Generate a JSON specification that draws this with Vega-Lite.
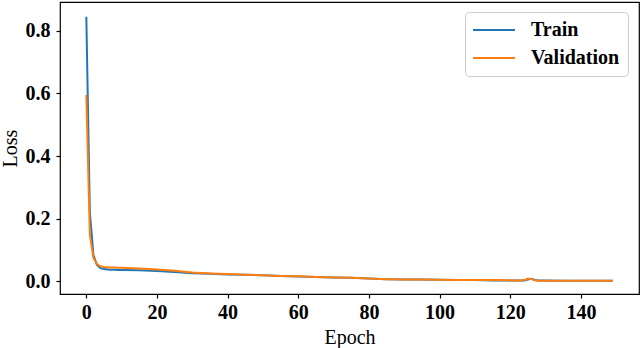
{
  "$schema": "https://vega.github.io/schema/vega-lite/v6.json",
  "width": 579,
  "height": 292,
  "autosize": {"type": "none"},
  "padding": {"left": 60, "top": 2, "right": 1, "bottom": 54},
  "background": "white",
  "config": {
    "view": {"stroke": "black", "strokeWidth": 1.2},
    "font": "Liberation Serif",
    "axis": {
      "grid": false,
      "domain": false,
      "tickColor": "black",
      "tickSize": 4,
      "tickWidth": 1.2,
      "labelFont": "Liberation Serif",
      "labelFontWeight": "bold",
      "labelFontSize": 20,
      "labelColor": "black",
      "titleFont": "Liberation Serif",
      "titleFontWeight": "normal",
      "titleFontSize": 20,
      "titleColor": "black"
    }
  },
  "data": {
    "values": [
      {"epoch": 0, "Train": 0.845, "Validation": 0.595},
      {"epoch": 1, "Train": 0.22, "Validation": 0.15},
      {"epoch": 2, "Train": 0.085, "Validation": 0.075},
      {"epoch": 3, "Train": 0.052, "Validation": 0.055},
      {"epoch": 4, "Train": 0.042, "Validation": 0.048},
      {"epoch": 5, "Train": 0.039, "Validation": 0.046},
      {"epoch": 6, "Train": 0.038, "Validation": 0.045},
      {"epoch": 7, "Train": 0.037, "Validation": 0.044},
      {"epoch": 8, "Train": 0.037, "Validation": 0.044},
      {"epoch": 9, "Train": 0.036, "Validation": 0.043},
      {"epoch": 10, "Train": 0.036, "Validation": 0.043},
      {"epoch": 15, "Train": 0.035, "Validation": 0.041},
      {"epoch": 20, "Train": 0.033, "Validation": 0.038},
      {"epoch": 25, "Train": 0.030, "Validation": 0.034},
      {"epoch": 30, "Train": 0.026, "Validation": 0.028},
      {"epoch": 35, "Train": 0.024, "Validation": 0.025},
      {"epoch": 40, "Train": 0.022, "Validation": 0.023},
      {"epoch": 45, "Train": 0.021, "Validation": 0.021},
      {"epoch": 50, "Train": 0.019, "Validation": 0.019},
      {"epoch": 55, "Train": 0.017, "Validation": 0.017},
      {"epoch": 60, "Train": 0.015, "Validation": 0.016},
      {"epoch": 65, "Train": 0.014, "Validation": 0.014},
      {"epoch": 70, "Train": 0.012, "Validation": 0.012},
      {"epoch": 75, "Train": 0.011, "Validation": 0.011},
      {"epoch": 80, "Train": 0.009, "Validation": 0.009},
      {"epoch": 85, "Train": 0.007, "Validation": 0.007},
      {"epoch": 90, "Train": 0.006, "Validation": 0.006},
      {"epoch": 95, "Train": 0.006, "Validation": 0.006},
      {"epoch": 100, "Train": 0.005, "Validation": 0.005},
      {"epoch": 105, "Train": 0.004, "Validation": 0.004},
      {"epoch": 110, "Train": 0.004, "Validation": 0.004},
      {"epoch": 115, "Train": 0.003, "Validation": 0.004},
      {"epoch": 120, "Train": 0.003, "Validation": 0.003},
      {"epoch": 123, "Train": 0.003, "Validation": 0.003},
      {"epoch": 124, "Train": 0.003, "Validation": 0.004},
      {"epoch": 125, "Train": 0.006, "Validation": 0.009},
      {"epoch": 126, "Train": 0.008, "Validation": 0.007},
      {"epoch": 127, "Train": 0.004, "Validation": 0.003},
      {"epoch": 128, "Train": 0.003, "Validation": 0.002},
      {"epoch": 130, "Train": 0.003, "Validation": 0.002},
      {"epoch": 135, "Train": 0.002, "Validation": 0.002},
      {"epoch": 140, "Train": 0.002, "Validation": 0.002},
      {"epoch": 145, "Train": 0.002, "Validation": 0.002},
      {"epoch": 149, "Train": 0.002, "Validation": 0.002}
    ]
  },
  "transform": [{"fold": ["Train", "Validation"], "as": ["series", "loss"]}],
  "mark": {"type": "line", "strokeWidth": 2, "clip": true},
  "encoding": {
    "x": {
      "field": "epoch",
      "type": "quantitative",
      "title": "Epoch",
      "scale": {"domain": [-7.45, 156.45], "nice": false, "zero": false},
      "axis": {"values": [0, 20, 40, 60, 80, 100, 120, 140], "labelPadding": 4, "titlePadding": 5}
    },
    "y": {
      "field": "loss",
      "type": "quantitative",
      "title": "Loss",
      "scale": {"domain": [-0.0405, 0.892], "nice": false, "zero": false},
      "axis": {"values": [0, 0.2, 0.4, 0.6, 0.8], "format": ".1f", "labelPadding": 6, "titlePadding": 5}
    },
    "color": {
      "field": "series",
      "type": "nominal",
      "scale": {"domain": ["Train", "Validation"], "range": ["#1f77b4", "#ff7f0e"]},
      "legend": {
        "title": null,
        "orient": "none",
        "legendX": 405,
        "legendY": 10,
        "symbolType": "M-3,0H3",
        "symbolSize": 196,
        "symbolStrokeWidth": 2,
        "symbolOffset": 11,
        "labelFont": "Liberation Serif",
        "labelFontWeight": "bold",
        "labelFontSize": 20,
        "labelColor": "black",
        "labelOffset": 27,
        "rowPadding": 8,
        "padding": 8,
        "strokeColor": "#cccccc",
        "fillColor": "white",
        "cornerRadius": 4
      }
    }
  }
}
